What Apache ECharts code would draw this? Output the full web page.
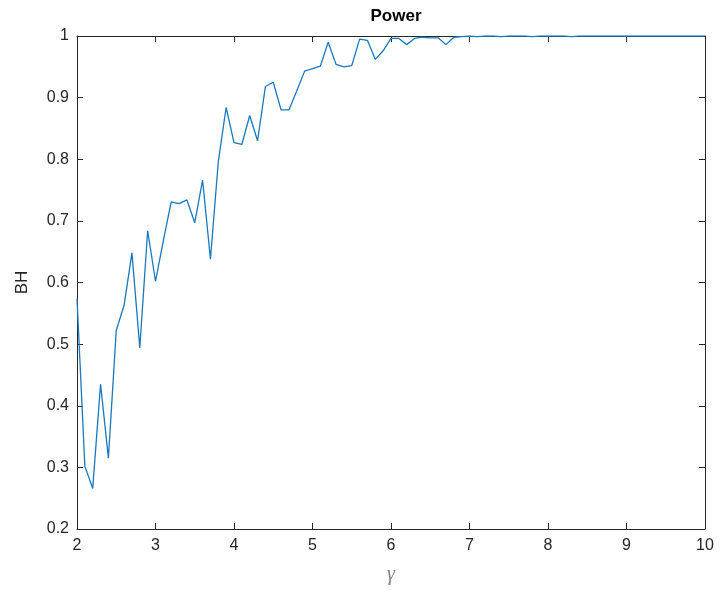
<!DOCTYPE html>
<html>
<head>
<meta charset="utf-8">
<script src="https://cdn.jsdelivr.net/npm/echarts@6/dist/echarts.min.js"></script>
<style>
  html, body { margin: 0; padding: 0; background: #fff; }
  #chart { width: 720px; height: 590px; }
</style>
</head>
<body>
<div id="chart"></div>
<script>
// gamma values (x) and BH power (y)
const gamma = [
  2.0, 2.1, 2.2, 2.3, 2.4, 2.5, 2.6, 2.7, 2.8, 2.9,
  3.0, 3.1, 3.2, 3.3, 3.4, 3.5, 3.6, 3.7, 3.8, 3.9,
  4.0, 4.1, 4.2, 4.3, 4.4, 4.5, 4.6, 4.7, 4.8, 4.9,
  5.0, 5.1, 5.2, 5.3, 5.4, 5.5, 5.6, 5.7, 5.8, 5.9,
  6.0, 6.1, 6.2, 6.3, 6.4, 6.5, 6.6, 6.7, 6.8, 6.9,
  7.0, 7.1, 7.2, 7.3, 7.4, 7.5, 7.6, 7.7, 7.8, 7.9,
  8.0, 8.1, 8.2, 8.3, 8.4, 8.5, 8.6, 8.7, 8.8, 8.9,
  9.0, 9.1, 9.2, 9.3, 9.4, 9.5, 9.6, 9.7, 9.8, 9.9,
  10.0
];
const bhPower = [
  0.574, 0.302, 0.266, 0.435, 0.315, 0.522, 0.563, 0.648, 0.494, 0.684,
  0.602, 0.668, 0.731, 0.728, 0.734, 0.697, 0.766, 0.638, 0.796, 0.884,
  0.827, 0.824, 0.871, 0.830, 0.918, 0.925, 0.880, 0.880, 0.911, 0.943,
  0.947, 0.951, 0.990, 0.954, 0.950, 0.952, 0.995, 0.993, 0.962, 0.976,
  0.996, 0.996, 0.986, 0.996, 0.998, 0.997, 0.997, 0.986, 0.998, 0.999,
  1.000, 0.999, 1.000, 1.000, 0.999, 1.000, 1.000, 1.000, 0.999, 1.000,
  1.000, 1.000, 1.000, 0.999, 1.000, 1.000, 1.000, 1.000, 1.000, 1.000,
  1.000, 1.000, 1.000, 1.000, 1.000, 1.000, 1.000, 1.000, 1.000, 1.000,
  1.000
];
const xTicks = { min: 2, max: 10, interval: 1 };
const yTicks = { min: 0.2, max: 1, interval: 0.1 };

const axisColor = '#262626';
const labelFont = { fontFamily: 'Liberation Sans, Arial, sans-serif', fontSize: 16, color: axisColor };

const chart = echarts.init(document.getElementById('chart'), null, { renderer: 'canvas' });
chart.setOption({
  animation: false,
  backgroundColor: '#ffffff',
  title: {
    text: 'Power',
    left: 391,
    top: 3,
    textAlign: 'center',
    textStyle: { fontFamily: 'Liberation Sans, Arial, sans-serif', fontSize: 17, fontWeight: 'bold', color: '#000' }
  },
  grid: { left: 77, right: 15, top: 36, bottom: 60, containLabel: false },
  xAxis: [
    {
      type: 'value', position: 'bottom',
      min: xTicks.min, max: xTicks.max, interval: xTicks.interval,
      name: 'γ', nameLocation: 'middle', nameGap: 36,
      nameTextStyle: { fontFamily: 'Liberation Serif, DejaVu Serif, serif', fontStyle: 'italic', fontSize: 20, color: '#808080' },
      axisLine: { show: true, onZero: false, lineStyle: { color: axisColor, width: 1 } },
      axisTick: { show: true, inside: true, length: 6, lineStyle: { color: axisColor } },
      axisLabel: Object.assign({ margin: 9 }, labelFont),
      splitLine: { show: false }
    },
    {
      type: 'value', position: 'top',
      min: xTicks.min, max: xTicks.max, interval: xTicks.interval,
      axisLine: { show: true, onZero: false, lineStyle: { color: axisColor, width: 1 } },
      axisTick: { show: true, inside: true, length: 6, lineStyle: { color: axisColor } },
      axisLabel: { show: false },
      splitLine: { show: false }
    }
  ],
  yAxis: [
    {
      type: 'value', position: 'left',
      min: yTicks.min, max: yTicks.max, interval: yTicks.interval,
      name: 'BH', nameLocation: 'middle', nameGap: 46, nameRotate: 90,
      nameTextStyle: { fontFamily: 'Liberation Sans, Arial, sans-serif', fontSize: 17, color: axisColor },
      axisLine: { show: true, onZero: false, lineStyle: { color: axisColor, width: 1 } },
      axisTick: { show: true, inside: true, length: 6, lineStyle: { color: axisColor } },
      axisLabel: Object.assign({ margin: 8 }, labelFont),
      splitLine: { show: false }
    },
    {
      type: 'value', position: 'right',
      min: yTicks.min, max: yTicks.max, interval: yTicks.interval,
      axisLine: { show: true, onZero: false, lineStyle: { color: axisColor, width: 1 } },
      axisTick: { show: true, inside: true, length: 6, lineStyle: { color: axisColor } },
      axisLabel: { show: false },
      splitLine: { show: false }
    }
  ],
  series: [
    {
      type: 'line',
      xAxisIndex: 0,
      yAxisIndex: 0,
      data: gamma.map((g, i) => [g, bhPower[i]]),
      showSymbol: false,
      symbol: 'none',
      lineStyle: { color: '#1a78bd', width: 1.3 },
      clip: true
    }
  ]
});
</script>
</body>
</html>
